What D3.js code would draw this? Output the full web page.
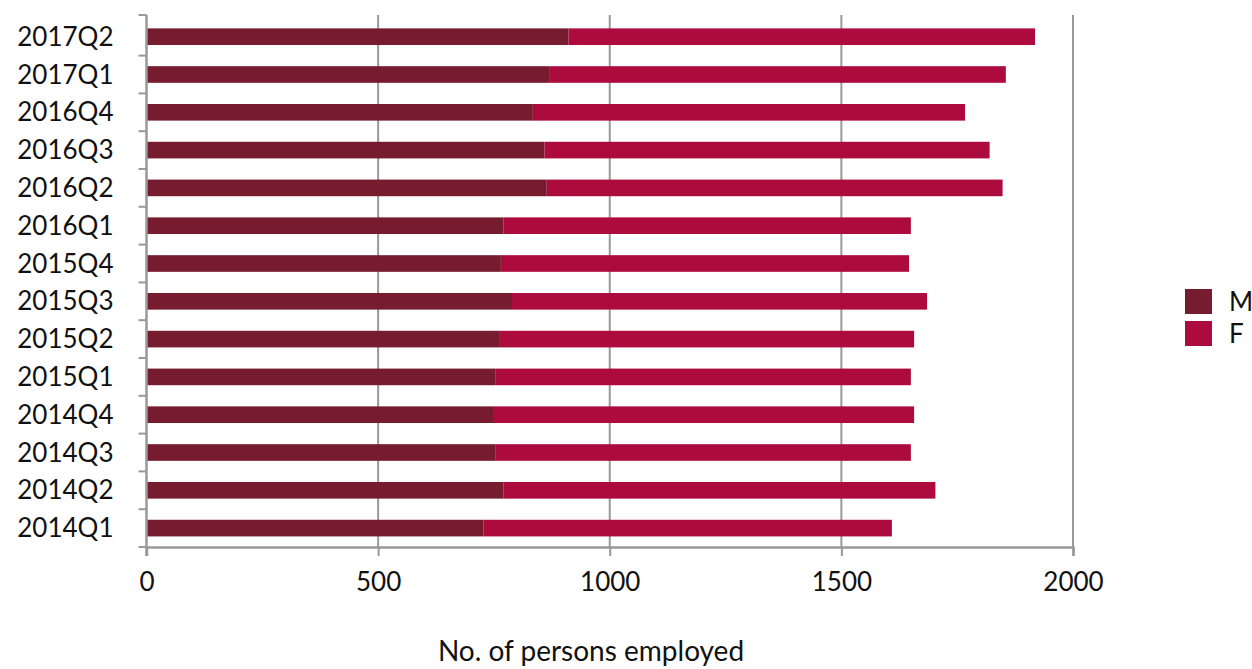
<!DOCTYPE html>
<html>
<head>
<meta charset="utf-8">
<script src="https://cdn.jsdelivr.net/npm/d3@7"></script>
<style>
  body { margin: 0; background: #fff; }
  text { font-family: Lato, "Open Sans", sans-serif; fill: #111; }
</style>
</head>
<body>
<svg width="1252" height="669"></svg>
<script>
// quarters, top to bottom as drawn
var quarters = ["2017Q2","2017Q1","2016Q4","2016Q3","2016Q2","2016Q1","2015Q4",
                "2015Q3","2015Q2","2015Q1","2014Q4","2014Q3","2014Q2","2014Q1"];
var male =   [911, 869, 834, 859, 864, 771, 765, 789, 761, 754, 748, 754, 771, 727];
var female = [1007, 986, 933, 961, 984, 879, 881, 896, 896, 896, 909, 896, 932, 882];
var xTicks = [0, 500, 1000, 1500, 2000];
var seriesNames = ["M", "F"];
var colours = ["#771c2e", "#ad0a3e"];

var m = {top:15, right:180, bottom:122, left:146.5};

var mySvg = d3.select("svg");
var g = mySvg.append("g").attr("transform", "translate(" + m.left + "," + m.top + ")");
var w = 1073 - m.left, h = 547 - m.top;

var x = d3.scaleLinear().domain([0, 2000]).range([0, w]);
var y = d3.scaleBand().domain(quarters).range([2.8, h]).paddingInner(0.56).paddingOuter(0.28);

// vertical gridlines
g.selectAll(".grid")
	.data(xTicks.slice(1))
	.enter()
	.append("line")
	.attr("x1", d=>x(d)).attr("x2", d=>x(d))
	.attr("y1", 0).attr("y2", h)
	.style("stroke", "#999").style("stroke-width", 2);

var rows = quarters.map(function(q, i){ return {q:q, m:male[i], f:female[i]}; });

g.selectAll(".barM")
	.data(rows)
	.enter()
	.append("rect")
	.attr("x", x(0))
	.attr("y", d=>y(d.q))
	.attr("width", d=>x(d.m) - x(0))
	.attr("height", y.bandwidth())
	.style("fill", colours[0]);

g.selectAll(".barF")
	.data(rows)
	.enter()
	.append("rect")
	.attr("x", d=>x(d.m))
	.attr("y", d=>y(d.q))
	.attr("width", d=>x(d.m + d.f) - x(d.m))
	.attr("height", y.bandwidth())
	.style("fill", colours[1]);

// x axis
var xAxis = d3.axisBottom(x).tickValues(xTicks).tickFormat(d3.format("d")).tickSize(9).tickPadding(17);
var xg = g.append("g").attr("transform", "translate(0," + h + ")").call(xAxis);
xg.select(".domain").style("stroke", "#999").style("stroke-width", 2.5);
xg.selectAll(".tick line").style("stroke", "#999").style("stroke-width", 2);
xg.selectAll(".tick text").style("font-size", "26px").style("fill", "#111");

// y axis with ticks between categories
var yg = g.append("g");
yg.append("line").attr("x1", 0).attr("x2", 0).attr("y1", 0).attr("y2", h + 9)
	.style("stroke", "#999").style("stroke-width", 2.5);
var bounds = [0].concat(quarters.map(q => y(q) - y.step()*0.28 + y.step()));
yg.selectAll(".ytick")
	.data(bounds)
	.enter()
	.append("line")
	.attr("x1", -8).attr("x2", 0)
	.attr("y1", d=>d).attr("y2", d=>d)
	.style("stroke", "#999").style("stroke-width", 2);
yg.selectAll(".ylab")
	.data(quarters)
	.enter()
	.append("text")
	.attr("x", -33)
	.attr("y", d=>y(d) + y.bandwidth()/2)
	.attr("dy", "0.35em")
	.attr("text-anchor", "end")
	.style("font-size", "26px")
	.text(d=>d);

// axis title
mySvg.append("text")
	.attr("x", 591).attr("y", 661)
	.attr("text-anchor", "middle")
	.style("font-size", "28px")
	.text("No. of persons employed");

// legend
var leg = mySvg.append("g").attr("transform", "translate(1185,289)");
seriesNames.forEach(function(s, i){
	leg.append("rect").attr("x", 0).attr("y", i*32).attr("width", 27).attr("height", 25)
		.style("fill", colours[i]);
	leg.append("text").attr("x", 44).attr("y", i*32 + 12.5).attr("dy", "0.35em")
		.style("font-size", "26px").text(s);
});
</script>
</body>
</html>
